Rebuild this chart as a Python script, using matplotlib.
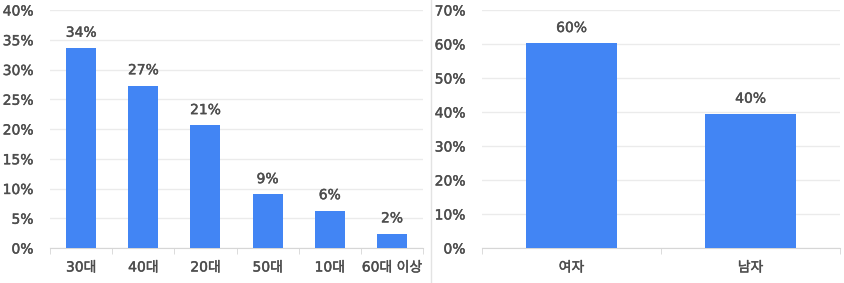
import matplotlib
matplotlib.use("Agg")
import matplotlib.pyplot as plt
import matplotlib.patheffects as pe
from matplotlib.ticker import FixedLocator, PercentFormatter
from matplotlib.lines import Line2D

# DejaVu para cifras, Noto CJK para el coreano
plt.rcParams["font.family"] = ["DejaVu Sans", "Noto Sans CJK KR"]

# =========================
# DATOS
# =========================
age_labels = ["30대", "40대", "20대", "50대", "10대", "60대 이상"]
age_values = [33.6, 27.3, 20.6, 9.0, 6.3, 2.4]
age_text = ["34%", "27%", "21%", "9%", "6%", "2%"]

sex_labels = ["여자", "남자"]
sex_values = [60.2, 39.4]
sex_text = ["60%", "40%"]

BLUE = "#4285f4"
TXT = "#4d4d4d"
GRID = "#ebebeb"
AXIS = "#d6d6d6"
FS = 10

W, H = 844, 283
fig = plt.figure(figsize=(W / 100, H / 100), dpi=100)
thick = [pe.withStroke(linewidth=0.3, foreground=TXT)]


def panel(rect, labels, values, texts, ymax, step, width):
    ax = fig.add_axes(rect)
    n = len(labels)
    x = list(range(n))
    ax.bar(x, values, width=width, color=BLUE, zorder=3)
    ax.set_xlim(-0.5, n - 0.5)
    ax.set_ylim(0, ymax)
    ax.set_yticks(list(range(0, ymax + 1, step)))
    ax.yaxis.set_major_formatter(PercentFormatter(decimals=0))
    ax.grid(axis="y", color=GRID, linewidth=1, zorder=0)
    for s in ["top", "right", "left"]:
        ax.spines[s].set_visible(False)
    ax.spines["bottom"].set_color(AXIS)
    ax.set_xticks(x)
    ax.set_xticklabels(labels)
    ax.xaxis.set_minor_locator(FixedLocator([i - 0.5 for i in range(n + 1)]))
    ax.tick_params(axis="x", which="major", length=0, pad=9,
                   labelsize=FS, labelcolor=TXT)
    ax.tick_params(axis="x", which="minor", length=4, color=AXIS)
    ax.tick_params(axis="y", length=0, pad=12, labelsize=FS, labelcolor=TXT)
    for lbl in ax.get_xticklabels() + ax.get_yticklabels():
        lbl.set_path_effects(thick)
    for xi, v, t in zip(x, values, texts):
        ax.annotate(t, (xi, v), xytext=(0, 6), textcoords="offset points",
                    ha="center", va="bottom", fontsize=FS, color=TXT,
                    path_effects=thick)
    return ax


panel([50 / W, 1 - 248 / H, 373 / W, 238 / H],
      age_labels, age_values, age_text, 40, 5, 0.48)
panel([482 / W, 1 - 248 / H, 358 / W, 238 / H],
      sex_labels, sex_values, sex_text, 70, 10, 0.51)

# separador entre paneles
fig.add_artist(Line2D([431 / W, 431 / W], [0, 1], color="#e3e3e3",
                      linewidth=1, transform=fig.transFigure))

fig.savefig("out.png", dpi=100)
